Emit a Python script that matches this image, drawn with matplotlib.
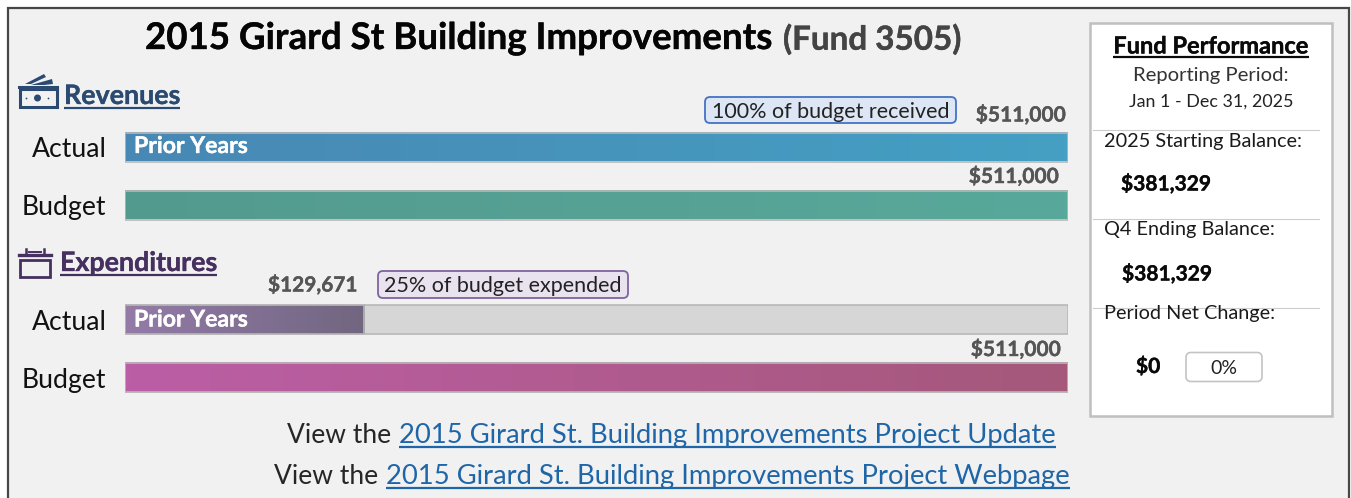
import numpy as np
import matplotlib
matplotlib.use("Agg")
import matplotlib.pyplot as plt
from matplotlib.patches import Rectangle, FancyBboxPatch, Polygon, Circle
from matplotlib.colors import LinearSegmentedColormap
import matplotlib.patheffects as pe

plt.rcParams['font.family'] = ['Lato', 'DejaVu Sans']

W, H = 1351, 498
title = "2015 Girard St Building Improvements"
subtitle = "(Fund 3505)"
categories = ["Actual", "Budget"]
revenue_values = [511000, 511000]
expenditure_values = [129671, 511000]
total_scale = 511000
bar_text = "Prior Years"
revenue_note = "100% of budget received"
expenditure_note = "25% of budget expended"
start_balance = 381329
end_balance = 381329
net_change = 0
net_pct = "0%"

fig = plt.figure(figsize=(W / 100, H / 100), dpi=100, facecolor="white")


def px_axes(x0, y0, x1, y1, z):
    return fig.add_axes([x0 / W, 1 - y1 / H, (x1 - x0) / W, (y1 - y0) / H], zorder=z)


bg = px_axes(0, 0, W, H, 0)
bg.set_xlim(0, W); bg.set_ylim(H, 0); bg.axis("off")
bg.add_patch(Rectangle((8, 7.5), 1341, 500, fc="#F1F1F1", ec="#474747", lw=1.6))

ov = px_axes(0, 0, W, H, 5)
ov.set_xlim(0, W); ov.set_ylim(H, 0); ov.axis("off"); ov.patch.set_alpha(0)


def bars(axb, values, cols, track=False):
    axb.set_xlim(0, total_scale)
    axb.set_ylim(1.5, -0.5)
    axb.axis("on")
    axb.patch.set_alpha(0)
    for s in axb.spines.values():
        s.set_visible(False)
    axb.set_xticks([])
    axb.set_yticks(range(len(categories)))
    axb.set_yticklabels(categories, fontsize=19.2, color="#111111", va="center_baseline")
    axb.tick_params(axis="y", length=0, pad=13.4)
    h = 0.5
    for i, (v, c) in enumerate(zip(values, cols)):
        if track:
            axb.barh(i, total_scale, height=h, color="#D6D6D6", edgecolor="#B8B8B8", lw=1.2, zorder=1)
        cm = LinearSegmentedColormap.from_list("g", c)
        axb.imshow(np.linspace(0, 1, 256)[None, :], cmap=cm, aspect="auto",
                   extent=[0, v, i + h / 2, i - h / 2], zorder=2)
        axb.barh(i, v, height=h, fill=False, edgecolor="#B8B8B8", lw=1.2, zorder=3)
    axb.set_xlim(0, total_scale)
    axb.set_ylim(1.5, -0.5)


rev = px_axes(125, 118, 1068, 234, 2)
bars(rev, revenue_values, [("#4888B4", "#44A0C4"), ("#539A8E", "#58A99B")])
exp = px_axes(125, 291, 1068, 407, 2)
bars(exp, expenditure_values, [("#947BA8", "#716680"), ("#BC5EA6", "#A5587A")], track=True)

r = fig.canvas.get_renderer()


def txt(x, y, s, size, color="#111111", weight="normal", ha="left", ul=None, ulw=1.6, stroke=0):
    t = ov.text(x, y, s, fontsize=size, color=color, fontweight=weight, ha=ha, va="center")
    if stroke:
        t.set_path_effects([pe.withStroke(linewidth=stroke, foreground=color)])
    if ul:
        bb = t.get_window_extent(r)
        ov.plot([bb.x0, bb.x1], [ul, ul], color=color, lw=ulw, solid_capstyle="butt")
    return t


money = lambda v: f"${v:,.0f}"
S = 0.25

# Title
txt(145, 38.5, title, 26.4, "#050505", "bold", stroke=S)
txt(783, 39.5, subtitle, 23.9, "#444444", "bold", stroke=S)

# Section headers
txt(64, 96, "Revenues", 19.3, "#2B4A72", "bold", ul=107.5, stroke=S)
txt(60, 263, "Expenditures", 19.3, "#46305F", "bold", ul=275, stroke=S)

# Money icon
c = "#2B4A72"
ov.add_patch(Rectangle((19.5, 89), 37, 18, fc="none", ec=c, lw=2.2))
ov.add_patch(Polygon([(25, 84), (44, 74), (46, 77), (31, 84)], fc=c, ec="none"))
ov.add_patch(Polygon([(31, 85), (52, 79), (53, 84), (44, 85)], fc=c, ec="none"))
ov.plot([19, 57], [87, 87], color=c, lw=2.2)
ov.add_patch(Circle((37.5, 98), 3.5, fc=c, ec="none"))
ov.add_patch(Circle((26.5, 98.5), 0.9, fc=c, ec="none"))
ov.add_patch(Circle((48.5, 98.5), 0.9, fc=c, ec="none"))

# Calendar icon
c = "#46305F"
ov.add_patch(Rectangle((20, 260), 30, 17, fc="none", ec=c, lw=2.0))
ov.plot([19, 51], [254.5, 254.5], color=c, lw=2.4)
ov.plot([25.5, 25.5], [249, 253], color=c, lw=1.8)
ov.plot([44, 44], [249, 253], color=c, lw=1.8)
ov.plot([29, 41], [251.5, 251.5], color=c, lw=1.4)

# Bar text
txt(134, 146.5, bar_text, 16.6, "white", "bold", stroke=S)
txt(134, 320, bar_text, 16.6, "white", "bold", stroke=S)

# Value labels
LC = "#555555"
txt(1066, 115, money(revenue_values[0]), 15.1, LC, "bold", ha="right", stroke=S)
txt(1059, 176.5, money(revenue_values[1]), 15.1, LC, "bold", ha="right", stroke=S)
txt(358, 285, money(expenditure_values[0]), 15.0, LC, "bold", ha="right", stroke=S)
txt(1061, 349.5, money(expenditure_values[1]), 15.1, LC, "bold", ha="right", stroke=S)


def note(x0, y0, x1, y1, s, fc, ec, size=15.5, col="#222222", lw=1.3, dy=1.5):
    ov.add_patch(FancyBboxPatch((x0 + 4, y0 + 4), x1 - x0 - 8, y1 - y0 - 8,
                                boxstyle="round,pad=4,rounding_size=5", fc=fc, ec=ec, lw=lw,
                                mutation_aspect=1))
    ov.text((x0 + x1) / 2, (y0 + y1) / 2 + dy, s, fontsize=size, color=col, ha="center", va="center")


note(705, 97, 956, 123, revenue_note, "#DCE6F4", "#4472C4")
note(378, 271, 628, 298, expenditure_note, "#E9E3EF", "#7E649E")

# Links
LK = "#1F66A8"
txt(287, 435, "View the ", 19, "#262626")
txt(399, 435, "2015 Girard St. Building Improvements Project Update", 19.75, LK, ul=447)
txt(274, 476, "View the ", 19, "#262626")
txt(386, 476, "2015 Girard St. Building Improvements Project Webpage", 19.75, LK, ul=488)

# Side panel
ov.add_patch(Rectangle((1090, 22.5), 242, 393.5, fc="white", ec="#BFBFBF", lw=1.8))
cx = 1211
txt(cx, 46, "Fund Performance", 17, "#0A0A0A", "bold", ha="center", ul=57, stroke=S)
txt(cx, 75.5, "Reporting Period:", 14.6, "#333333", ha="center")
txt(cx, 101.5, "Jan 1 - Dec 31, 2025", 12.9, "#222222", ha="center")
for y in (129.5, 218.5, 308):
    ov.plot([1093, 1319], [y, y], color="#CCCCCC", lw=0.8)
txt(1104, 141.5, "2025 Starting Balance:", 14.3, "#1A1A1A")
txt(1121, 184, money(start_balance), 15.1, "#0A0A0A", "bold", stroke=S)
txt(1104, 229.5, "Q4 Ending Balance:", 14.3, "#1A1A1A")
txt(1122, 274, money(end_balance), 15.1, "#0A0A0A", "bold", stroke=S)
txt(1104, 313, "Period Net Change:", 14.3, "#1A1A1A")
txt(1136, 366.5, money(net_change), 15.1, "#0A0A0A", "bold", stroke=S)
note(1186, 352.5, 1262, 381.5, net_pct, "white", "#C4C4C4", size=14, col="#222222", lw=1.2, dy=1)

fig.savefig("out.png", dpi=100, facecolor="white")
